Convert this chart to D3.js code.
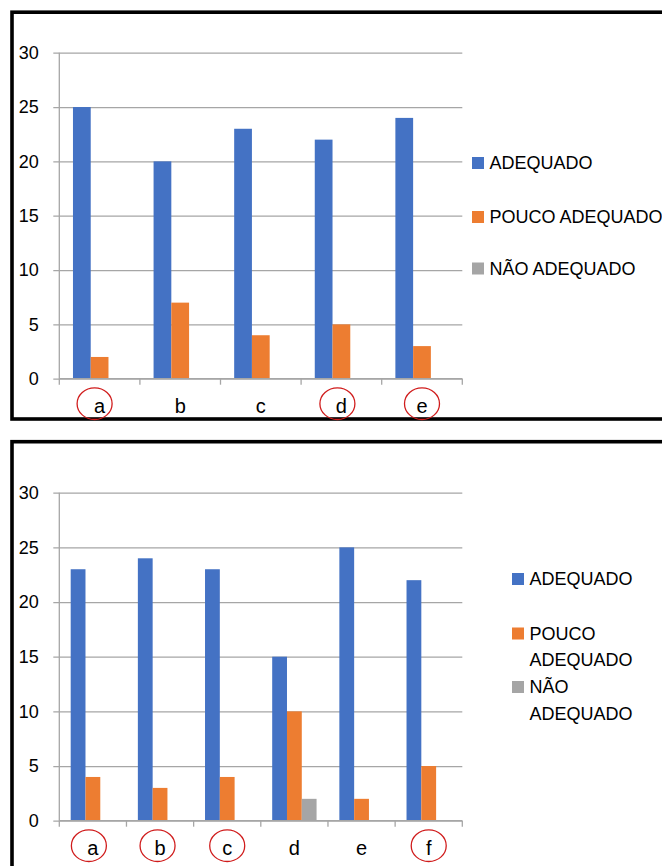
<!DOCTYPE html>
<html>
<head>
<meta charset="utf-8">
<script src="https://cdn.jsdelivr.net/npm/d3@7"></script>
<style>
  html, body { margin: 0; padding: 0; background: #fff; }
  svg { display: block; }
  text { font-family: "Liberation Sans", Arial, sans-serif; fill: #000; }
</style>
</head>
<body>
<svg id="chart" width="662" height="866"></svg>
<script>
// Series names and colours
const seriesNames = ["ADEQUADO", "POUCO ADEQUADO", "NÃO ADEQUADO"];
const seriesColors = ["#4472C4", "#ED7D31", "#A5A5A5"];
const yTicks = [0, 5, 10, 15, 20, 25, 30];

// First chart
const categoriesTop = ["a", "b", "c", "d", "e"];
const adequadoTop = [25, 20, 23, 22, 24];
const poucoTop = [2, 7, 4, 5, 3];
const naoTop = [0, 0, 0, 0, 0];
const circledTop = ["a", "d", "e"];

// Second chart
const categoriesBottom = ["a", "b", "c", "d", "e", "f"];
const adequadoBottom = [23, 24, 23, 15, 25, 22];
const poucoBottom = [4, 3, 4, 10, 2, 5];
const naoBottom = [0, 0, 0, 2, 0, 0];
const circledBottom = ["a", "b", "c", "f"];

const svg = d3.select("#chart");

function drawPanel(opts) {
  const { frame, plot, categories, values, circled, circleShift, legend } = opts;

  // panel frame (thick black border)
  svg.append("rect")
    .attr("x", frame.x).attr("y", frame.y)
    .attr("width", frame.w).attr("height", frame.h)
    .attr("fill", "none").attr("stroke", "#000").attr("stroke-width", 3.6);

  const g = svg.append("g");

  const x0 = d3.scaleBand().domain(categories).range([plot.left, plot.right]).padding(0);
  const x1 = d3.scaleBand().domain(seriesNames).range([0, x0.bandwidth()])
    .paddingInner(0).paddingOuter(0.77);
  const y = d3.scaleLinear().domain([0, 30]).range([plot.bottom, plot.top]);

  // horizontal gridlines + y labels via axis
  const yAxis = d3.axisLeft(y).tickValues(yTicks)
    .tickSize(-(plot.right - plot.left)).tickPadding(20.5);
  const ya = g.append("g").attr("transform", `translate(${plot.left},0)`).call(yAxis);
  ya.select(".domain").remove();
  ya.selectAll(".tick line").attr("stroke", "#a6a6a6").attr("stroke-width", 1.3)
    .attr("x1", -6);
  ya.selectAll(".tick text").attr("font-size", 18)
    .attr("font-family", "'Liberation Sans', Arial, sans-serif").attr("fill", "#000");

  // vertical axis line
  g.append("line")
    .attr("x1", plot.left).attr("x2", plot.left)
    .attr("y1", plot.top).attr("y2", plot.bottom)
    .attr("stroke", "#a6a6a6").attr("stroke-width", 1.3);

  // bars
  const rows = categories.map((c, i) => ({ cat: c, vals: values.map(v => v[i]) }));
  const groups = g.append("g").selectAll("g").data(rows).join("g")
    .attr("transform", d => `translate(${x0(d.cat)},0)`);
  groups.selectAll("rect")
    .data(d => d.vals.map((v, k) => ({ name: seriesNames[k], v, k })))
    .join("rect")
    .attr("x", d => x1(d.name))
    .attr("width", x1.bandwidth())
    .attr("y", d => y(d.v))
    .attr("height", d => y(0) - y(d.v))
    .attr("fill", d => seriesColors[d.k]);

  // category axis: baseline and ticks at band edges
  g.append("line")
    .attr("x1", plot.left).attr("x2", plot.right)
    .attr("y1", plot.bottom).attr("y2", plot.bottom)
    .attr("stroke", "#a6a6a6").attr("stroke-width", 1.3);
  const edges = categories.map(c => x0(c)).concat([plot.right]);
  g.append("g").selectAll("line").data(edges).join("line")
    .attr("x1", d => d).attr("x2", d => d)
    .attr("y1", plot.bottom).attr("y2", plot.bottom + 6)
    .attr("stroke", "#a6a6a6").attr("stroke-width", 1.3);

  const labelY = plot.bottom + 34.5;
  g.append("g").selectAll("text").data(categories).join("text")
    .attr("x", d => x0(d) + x0.bandwidth() / 2)
    .attr("y", labelY)
    .attr("text-anchor", "middle")
    .attr("font-size", 20)
    .text(d => d);

  // red hand-drawn style ellipses around selected categories
  g.append("g").selectAll("ellipse").data(circled).join("ellipse")
    .attr("cx", d => x0(d) + x0.bandwidth() / 2 + (circleShift[d] || 0))
    .attr("cy", labelY - 9.5)
    .attr("rx", 17.5).attr("ry", 15.8)
    .attr("fill", "none").attr("stroke", "#D01C1C").attr("stroke-width", 1.3);

  // legend
  const lg = svg.append("g");
  legend.items.forEach((item, k) => {
    lg.append("rect")
      .attr("x", legend.x).attr("y", item.y - 6)
      .attr("width", 12).attr("height", 12)
      .attr("fill", seriesColors[k]);
    const t = lg.append("text")
      .attr("x", legend.x + 17.5).attr("y", item.y)
      .attr("dominant-baseline", "central")
      .attr("font-size", 18);
    item.lines.forEach((line, j) => {
      t.append("tspan").attr("x", legend.x + 17.5).attr("dy", j === 0 ? 0 : 26.5).text(line);
    });
  });
}

drawPanel({
  frame: { x: 12, y: 12.2, w: 670, h: 406.8 },
  plot: { left: 59.3, right: 462.3, top: 52.7, bottom: 378.7 },
  categories: categoriesTop,
  values: [adequadoTop, poucoTop, naoTop],
  circled: circledTop,
  circleShift: { a: -5, d: -4, e: 0 },
  legend: {
    x: 472,
    items: [
      { y: 163, lines: [seriesNames[0]] },
      { y: 217, lines: [seriesNames[1]] },
      { y: 268.5, lines: [seriesNames[2]] }
    ]
  }
});

drawPanel({
  frame: { x: 12, y: 441.7, w: 670, h: 440 },
  plot: { left: 59.3, right: 462.3, top: 492.7, bottom: 820.7 },
  categories: categoriesBottom,
  values: [adequadoBottom, poucoBottom, naoBottom],
  circled: circledBottom,
  circleShift: { a: -4, b: -2.5, c: 0, f: 0 },
  legend: {
    x: 512,
    items: [
      { y: 579, lines: [seriesNames[0]] },
      { y: 633.5, lines: ["POUCO", "ADEQUADO"] },
      { y: 687, lines: ["NÃO", "ADEQUADO"] }
    ]
  }
});
</script>
</body>
</html>
